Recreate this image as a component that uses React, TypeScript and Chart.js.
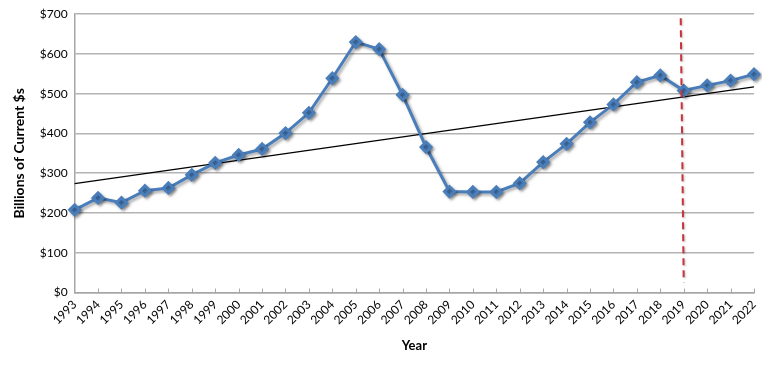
import React, { useEffect, useRef } from "react";
import { Chart, registerables } from "chart.js";

Chart.register(...registerables);

const years = [
  "1993", "1994", "1995", "1996", "1997", "1998", "1999", "2000", "2001", "2002",
  "2003", "2004", "2005", "2006", "2007", "2008", "2009", "2010", "2011", "2012",
  "2013", "2014", "2015", "2016", "2017", "2018", "2019", "2020", "2021", "2022",
];

const spending = [
  208, 238, 226, 256, 263, 296, 326, 346, 361, 401,
  452, 539, 630, 612, 497, 366, 254, 253, 253, 275,
  328, 374, 428, 473, 529, 546, 508, 521, 533, 549,
];

// Trend line endpoints (1993 and 2022)
const trend = years.map((_, i) => (i === 0 ? 274 : i === years.length - 1 ? 517 : null));

const markerYear = "2019";
const markerRange = [690, 25];

const yTicks = [0, 100, 200, 300, 400, 500, 600, 700];

const FONT = "Lato, 'DejaVu Sans', sans-serif";

export default function App() {
  const ref = useRef<HTMLCanvasElement | null>(null);

  useEffect(() => {
    document.body.style.margin = "0";
    const canvas = ref.current;
    if (!canvas) return;

    const shadowPlugin = {
      id: "shadow",
      beforeDatasetDraw(chart: any, args: any) {
        if (args.index === 0) {
          const ctx = chart.ctx;
          ctx.save();
          ctx.shadowColor = "rgba(0,0,0,0.35)";
          ctx.shadowBlur = 3;
          ctx.shadowOffsetX = 2;
          ctx.shadowOffsetY = 2;
        }
      },
      afterDatasetDraw(chart: any, args: any) {
        if (args.index === 0) chart.ctx.restore();
      },
    };

    const extrasPlugin = {
      id: "extras",
      afterDraw(chart: any) {
        const ctx = chart.ctx;
        const x = chart.scales.x;
        const bottom = chart.chartArea.bottom;
        ctx.save();
        ctx.strokeStyle = "#a6a6a6";
        ctx.lineWidth = 1;
        for (let i = 1; i < years.length; i++) {
          const px = Math.round(x.getPixelForValue(i)) + 0.5;
          ctx.beginPath();
          ctx.moveTo(px, bottom);
          ctx.lineTo(px, bottom - 4);
          ctx.stroke();
        }
        ctx.restore();
      },
      afterDatasetsDraw(chart: any) {
        const ctx = chart.ctx;
        const x = chart.scales.x;
        const y = chart.scales.y;
        const idx = years.indexOf(markerYear);
        const px = x.getPixelForValue(idx);
        ctx.save();
        ctx.strokeStyle = "#c8323a";
        ctx.lineWidth = 2;
        ctx.setLineDash([7, 5]);
        ctx.shadowColor = "rgba(0,0,0,0.25)";
        ctx.shadowBlur = 2;
        ctx.shadowOffsetX = 1;
        ctx.shadowOffsetY = 1;
        ctx.beginPath();
        ctx.moveTo(px - 3, y.getPixelForValue(markerRange[0]));
        ctx.lineTo(px, y.getPixelForValue(markerRange[1]));
        ctx.stroke();
        ctx.restore();
      },
    };

    const chart = new Chart(canvas, {
      type: "line",
      data: {
        labels: years,
        datasets: [
          {
            label: "Spending",
            data: spending,
            borderColor: "#4a7ebb",
            backgroundColor: "#4a7ebb",
            borderWidth: 3,
            pointStyle: "rectRot",
            pointRadius: 5,
            pointHoverRadius: 5,
            pointBackgroundColor: "#4a7ebb",
            pointBorderColor: "#4a7ebb",
            tension: 0,
            order: 1,
          },
          {
            label: "Trend",
            data: trend,
            borderColor: "#000000",
            borderWidth: 1.3,
            pointRadius: 0,
            spanGaps: true,
            tension: 0,
            order: 2,
          },
        ],
      },
      options: {
        animation: false,
        responsive: false,
        maintainAspectRatio: false,
        layout: { padding: { top: 1, right: 24, left: 7, bottom: 12 } },
        plugins: {
          legend: { display: false },
          tooltip: { enabled: false },
        },
        scales: {
          x: {
            offset: false,
            grid: { display: false, drawTicks: false },
            border: { display: true, color: "#a6a6a6", width: 1.5 },
            ticks: {
              color: "#000",
              font: { family: FONT, size: 12 },
              minRotation: 45,
              maxRotation: 45,
              autoSkip: false,
              padding: 5,
            },
            title: {
              display: true,
              text: "Year",
              color: "#000",
              font: { family: FONT, size: 13, weight: "bold" },
              padding: { top: 6 },
            },
          },
          y: {
            min: 0,
            max: 700,
            afterBuildTicks(scale: any) {
              scale.ticks = yTicks.map((v) => ({ value: v }));
            },
            grid: { color: "#b3b3b3", lineWidth: 1.5, drawTicks: false },
            border: { display: true, color: "#a6a6a6", width: 1.5 },
            ticks: {
              color: "#000",
              font: { family: FONT, size: 12 },
              padding: 7,
              callback: (v: any) => "$" + v,
            },
            title: {
              display: true,
              text: "Billions of Current $s",
              color: "#000",
              font: { family: FONT, size: 14, weight: "bold" },
              padding: { bottom: 5 },
            },
          },
        },
      },
      plugins: [shadowPlugin, extrasPlugin],
    });

    return () => chart.destroy();
  }, []);

  return (
    <div style={{ position: "absolute", left: 0, top: 0, width: 778, height: 370, background: "#fff" }}>
      <canvas ref={ref} width={778} height={370} style={{ display: "block" }} />
    </div>
  );
}
